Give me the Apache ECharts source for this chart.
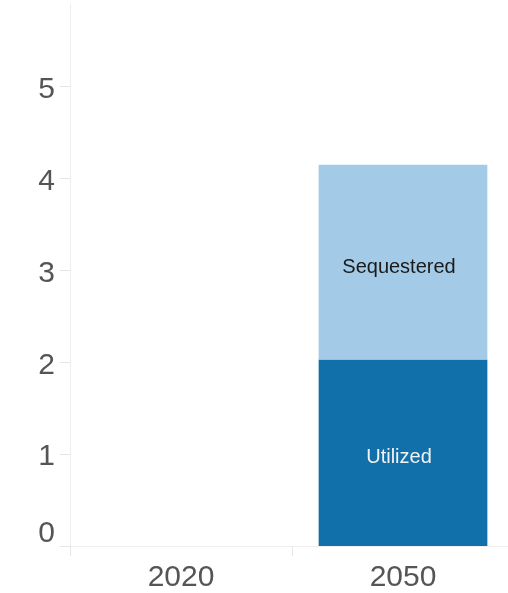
<!DOCTYPE html>
<html>
<head>
<meta charset="utf-8">
<script src="https://cdn.jsdelivr.net/npm/echarts@6/dist/echarts.min.js"></script>
<style>
  html, body { margin: 0; padding: 0; background: #fff; overflow: hidden; }
  #chart { width: 520px; height: 593px; }
</style>
</head>
<body>
<div id="chart"></div>
<script>
const years = ['2020', '2050'];
const utilized = [null, 2.03];
const sequestered = [null, 2.12];
const yTicks = [0, 1, 2, 3, 4, 5];

const chart = echarts.init(document.getElementById('chart'));
const font = 'Liberation Sans, Arial, sans-serif';

chart.setOption({
  animation: false,
  textStyle: { fontFamily: font },
  grid: { left: 70, top: 4, bottom: 46, width: 444 },
  xAxis: {
    type: 'category',
    data: years,
    axisLine: { lineStyle: { color: '#eeeeee', width: 1 } },
    axisTick: { show: true, length: 10, lineStyle: { color: '#e6e6e6' } },
    axisLabel: { color: '#555555', fontSize: 30, fontFamily: font, margin: 17 }
  },
  yAxis: {
    type: 'value',
    min: 0,
    max: 5.9,
    interval: 1,
    splitLine: { show: false },
    axisLine: { show: true, lineStyle: { color: '#eeeeee', width: 1 } },
    axisTick: { show: true, length: 10, customValues: yTicks, lineStyle: { color: '#e6e6e6' } },
    axisLabel: {
      customValues: yTicks,
      color: '#555555',
      fontSize: 30,
      fontFamily: font,
      margin: 15,
      formatter: function (v) { return v === 0 ? '{z|0}' : '{a|' + v + '}'; },
      rich: {
        a: { fontSize: 30, color: '#555555', fontFamily: font, padding: [6, 0, 0, 0] },
        z: { fontSize: 30, color: '#555555', fontFamily: font, padding: [0, 0, 24, 0] }
      }
    }
  },
  series: [
    {
      name: 'Utilized',
      type: 'bar',
      stack: 'total',
      data: utilized,
      barWidth: '76%',
      itemStyle: { color: '#1170aa' },
      label: { show: true, position: 'inside', offset: [-4, 5], formatter: 'Utilized', color: '#f2f2f2', fontSize: 20, fontFamily: font }
    },
    {
      name: 'Sequestered',
      type: 'bar',
      stack: 'total',
      data: sequestered,
      barWidth: '76%',
      itemStyle: { color: '#a3cbe8' },
      label: { show: true, position: 'inside', offset: [-4, 5], formatter: 'Sequestered', color: '#1a1a1a', fontSize: 20, fontFamily: font }
    }
  ]
});
</script>
</body>
</html>
